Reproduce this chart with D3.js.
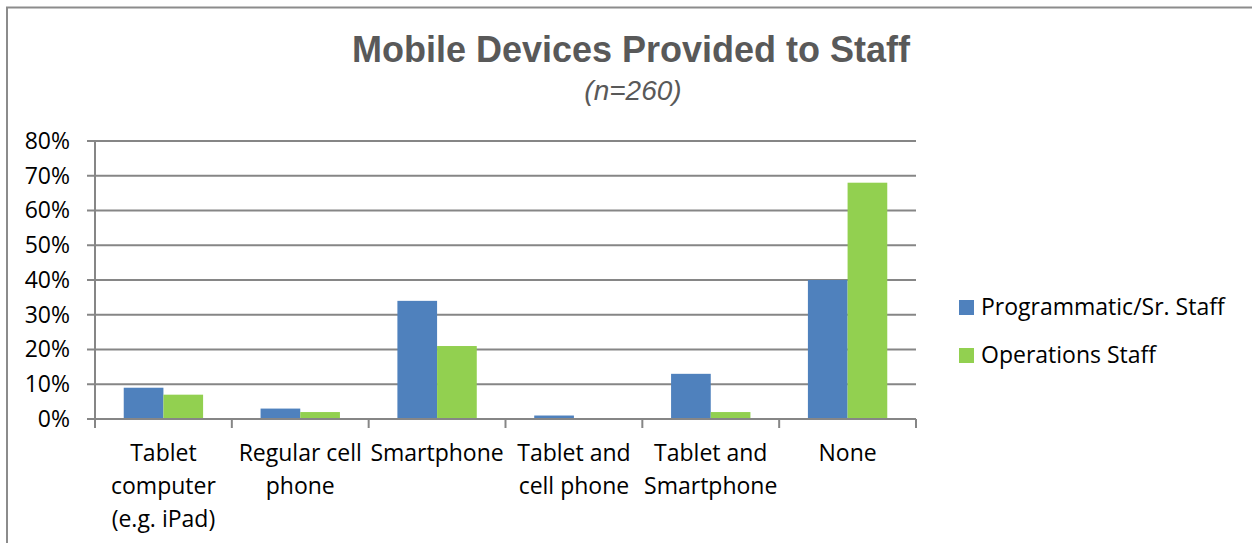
<!DOCTYPE html>
<html>
<head>
<meta charset="utf-8">
<script src="https://cdn.jsdelivr.net/npm/d3@7"></script>
<style>
  html, body { margin: 0; padding: 0; background: #fff; }
  svg { display: block; }
</style>
</head>
<body>
<svg id="chart" width="1252" height="543"></svg>
<script>
// Device categories (each label split into its display lines)
const categories = [
  ["Tablet", "computer", "(e.g. iPad)"],
  ["Regular cell", "phone"],
  ["Smartphone"],
  ["Tablet and", "cell phone"],
  ["Tablet and", "Smartphone"],
  ["None"]
];
const seriesNames = ["Programmatic/Sr. Staff", "Operations Staff"];
const programmaticValues = [0.09, 0.03, 0.34, 0.01, 0.13, 0.40];
const operationsValues = [0.07, 0.02, 0.21, 0.00, 0.02, 0.68];
const yTicks = [0, 0.1, 0.2, 0.3, 0.4, 0.5, 0.6, 0.7, 0.8];
const seriesColors = ["#4f81bd", "#92d050"];

const svg = d3.select("#chart");
const labelFont = "'Open Sans', 'Noto Sans', sans-serif";
const labelSize = 23;

// outer frame
svg.append("path")
  .attr("d", "M7,543 L7,7.5 L1252,7.5")
  .attr("fill", "none")
  .attr("stroke", "#8c8c8c")
  .attr("stroke-width", 2);

// titles
svg.append("text")
  .attr("x", 631).attr("y", 62)
  .attr("text-anchor", "middle")
  .attr("font-family", "'Liberation Sans', Arial, sans-serif")
  .attr("font-weight", "bold")
  .attr("font-size", 36)
  .attr("fill", "#595959")
  .text("Mobile Devices Provided to Staff");
svg.append("text")
  .attr("x", 633).attr("y", 100)
  .attr("text-anchor", "middle")
  .attr("font-family", "'Liberation Sans', Arial, sans-serif")
  .attr("font-style", "italic")
  .attr("font-size", 28)
  .attr("fill", "#595959")
  .text("(n=260)");

const plot = { left: 95, right: 916, top: 141, bottom: 419 };

const x = d3.scaleBand()
  .domain(d3.range(categories.length))
  .range([plot.left, plot.right])
  .paddingInner(0.42)
  .paddingOuter(0.21);

const xs = d3.scaleBand()
  .domain(d3.range(seriesNames.length))
  .range([0, x.bandwidth()]);

const y = d3.scaleLinear().domain([0, 0.8]).range([plot.bottom, plot.top]);

// horizontal gridlines
svg.append("g")
  .selectAll("line")
  .data(yTicks)
  .join("line")
  .attr("x1", plot.left - 8).attr("x2", plot.right)
  .attr("y1", d => y(d)).attr("y2", d => y(d))
  .attr("stroke", "#868686")
  .attr("stroke-width", 2);

// y axis labels
const yAxis = d3.axisLeft(y)
  .tickValues(yTicks)
  .tickFormat(d3.format(".0%"))
  .tickSize(0)
  .tickPadding(0);
const gy = svg.append("g")
  .attr("transform", `translate(${plot.left - 25},0)`)
  .call(yAxis);
gy.select(".domain").remove();
gy.selectAll("text")
  .attr("font-family", labelFont)
  .attr("font-size", labelSize)
  .attr("fill", "#000");

// bars
const seriesValues = [programmaticValues, operationsValues];
seriesValues.forEach((vals, si) => {
  svg.append("g")
    .selectAll("rect")
    .data(vals)
    .join("rect")
    .attr("x", (d, i) => x(i) + xs(si))
    .attr("y", d => y(d))
    .attr("width", xs.bandwidth())
    .attr("height", d => y(0) - y(d))
    .attr("fill", seriesColors[si]);
});

// y axis line
svg.append("line")
  .attr("x1", plot.left).attr("x2", plot.left)
  .attr("y1", plot.top).attr("y2", plot.bottom)
  .attr("stroke", "#868686").attr("stroke-width", 2);

// x axis with category tick marks at band boundaries
const boundaries = d3.range(categories.length + 1).map(i => plot.left + i * (plot.right - plot.left) / categories.length);
svg.append("line")
  .attr("x1", plot.left - 8).attr("x2", plot.right)
  .attr("y1", plot.bottom).attr("y2", plot.bottom)
  .attr("stroke", "#868686").attr("stroke-width", 2);
svg.append("g")
  .selectAll("line")
  .data(boundaries)
  .join("line")
  .attr("x1", d => d).attr("x2", d => d)
  .attr("y1", plot.bottom).attr("y2", plot.bottom + 9)
  .attr("stroke", "#868686").attr("stroke-width", 2);

// category labels
const catG = svg.append("g");
categories.forEach((lines, i) => {
  const cx = x(i) + x.bandwidth() / 2;
  const t = catG.append("text")
    .attr("text-anchor", "middle")
    .attr("font-family", labelFont)
    .attr("font-size", labelSize)
    .attr("fill", "#000");
  lines.forEach((ln, j) => {
    t.append("tspan").attr("x", cx).attr("y", 461 + j * 33).text(ln);
  });
});

// legend
const legend = svg.append("g");
seriesNames.forEach((name, i) => {
  const ly = 300 + i * 48;
  legend.append("rect")
    .attr("x", 959).attr("y", ly)
    .attr("width", 15).attr("height", 15)
    .attr("fill", seriesColors[i]);
  legend.append("text")
    .attr("x", 981).attr("y", ly + 15)
    .attr("font-family", labelFont)
    .attr("font-size", labelSize)
    .attr("fill", "#000")
    .text(name);
});
</script>
</body>
</html>
